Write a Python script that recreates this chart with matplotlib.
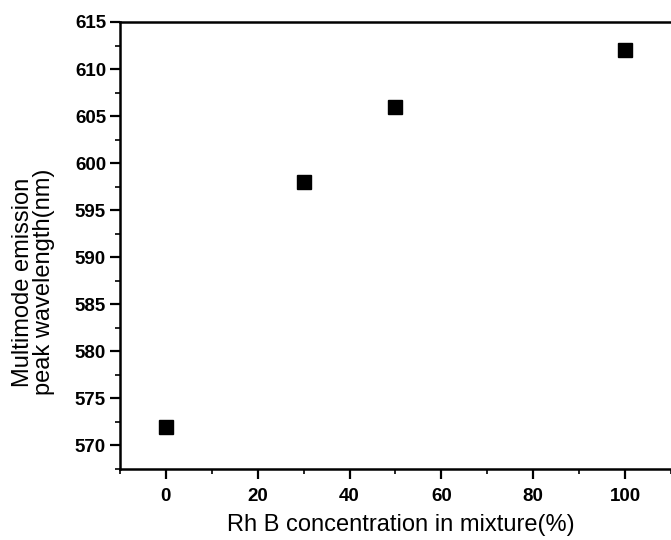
import matplotlib
matplotlib.use("Agg")
import matplotlib.pyplot as plt
from matplotlib.ticker import MultipleLocator

# Rh B fraction in the dye mixture (%) and the multimode emission peak (nm)
rhb_concentration = [0, 30, 50, 100]
peak_wavelength = [572, 598, 606, 612]

x_ticks = [0, 20, 40, 60, 80, 100]
y_ticks = [570, 575, 580, 585, 590, 595, 600, 605, 610, 615]

plt.rcParams['font.family'] = ['Liberation Sans', 'DejaVu Sans']

fig = plt.figure(figsize=(6.71, 5.40), dpi=100)
ax = fig.add_axes([0.1788, 0.1315, 0.8212, 0.8278])

ax.plot(rhb_concentration, peak_wavelength, linestyle='none', marker='s',
        markersize=9.5, color='black')

ax.set_xlim(-10, 110)
ax.set_ylim(567.5, 615)
ax.set_xticks(x_ticks)
ax.set_yticks(y_ticks)
ax.xaxis.set_minor_locator(MultipleLocator(10))
ax.yaxis.set_minor_locator(MultipleLocator(2.5))

ax.tick_params(axis='both', which='major', direction='out', length=7, width=1.6,
               labelsize=13.5)
ax.tick_params(axis='y', which='major', pad=3)
ax.tick_params(axis='x', which='major', pad=7)
ax.tick_params(axis='both', which='minor', direction='out', length=3.5, width=1.2)
for lab in ax.get_xticklabels() + ax.get_yticklabels():
    lab.set_fontweight('bold')

for side in ['left', 'bottom', 'top']:
    ax.spines[side].set_linewidth(1.8)
ax.spines['right'].set_visible(False)

ax.set_xlabel('Rh B concentration in mixture(%)', fontsize=17)
ax.xaxis.set_label_coords(0.51, -0.1)
ax.set_ylabel('Multimode emission\npeak wavelength(nm)', fontsize=17,
              linespacing=0.95)
ax.yaxis.set_label_coords(-0.118, 0.418)

fig.savefig('out.png', dpi=100)
